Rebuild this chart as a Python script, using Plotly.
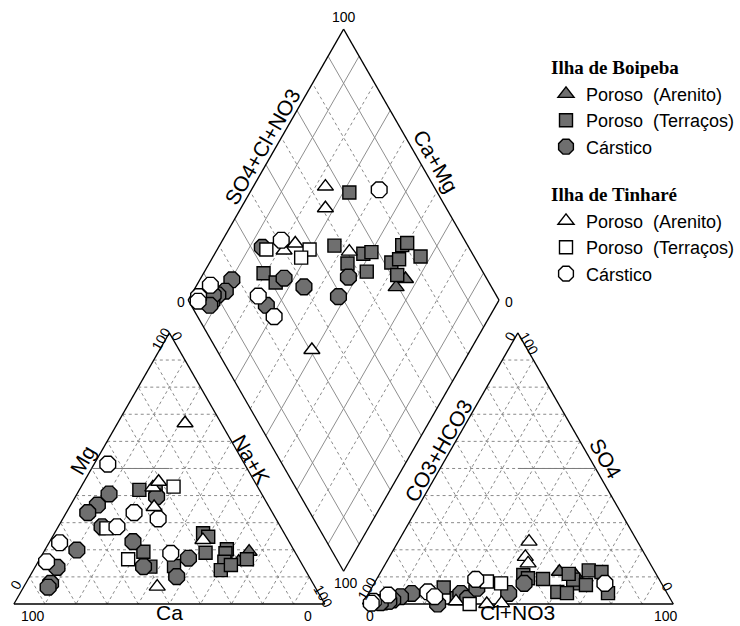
import numpy as np
import plotly.graph_objects as go

# ---------------- DATA (% meq) ----------------
# Ilha de Boipeba - Poroso (Arenito)
boi_are_mg = [19.3, 15.6]
boi_are_nak = [66.0, 64.5]
boi_are_so4 = [10.7, 11.9]
boi_are_cl = [63.1, 57.4]

# Ilha de Boipeba - Poroso (Terraços)
boi_ter_mg = [42.1, 41.4, 19.3, 13.8, 14.0, 26.1, 24.8, 18.9, 20.2, 18.7, 15.6, 12.5, 14.4, 16.5]
boi_ter_nak = [19.3, 24.9, 32.0, 37.0, 44.5, 47.8, 50.1, 52.2, 58.4, 58.7, 59.9, 60.3, 62.6, 66.7]
boi_ter_so4 = [6.1, 2.1, 7.6, 10.7, 9.5, 4.4, 4.0, 9.2, 9.0, 12.4, 4.0, 7.0, 11.1, 11.8]
boi_ter_cl = [23.1, 29.3, 64.1, 46.4, 48.5, 60.5, 63.8, 53.5, 63.3, 66.6, 77.0, 68.4, 60.8, 71.0]

# Ilha de Boipeba - Cárstico
boi_car_mg = [28.5, 23.0, 13.8, 10.1, 16.9, 40.6, 19.9, 36.5, 7.6, 39.6, 33.7, 13.5, 6.2]
boi_car_nak = [14.1, 26.8, 34.8, 47.3, 47.7, 10.3, 10.3, 8.6, 8.0, 26.1, 6.9, 7.1, 7.9]
boi_car_so4 = [3.9, 2.1, 5.8, 7.6, 3.9, 3.9, 2.7, 1.5, 0.8, 0.0, 1.0, 1.0, 0.5]
boi_car_cl = [29.7, 32.8, 33.9, 48.2, 45.1, 13.9, 10.9, 9.0, 6.5, 24.2, 7.8, 8.0, 5.5]

# Ilha de Tinharé - Poroso (Arenito)
tin_are_mg = [43.0, 35.8, 45.1, 66.7, 6.4, 23.6]
tin_are_nak = [23.2, 27.2, 24.0, 21.7, 42.9, 49.0]
tin_are_so4 = [23.0, 17.4, 0.3, 0.0, 15.0, 1.0]
tin_are_cl = [42.1, 43.7, 44.6, 40.0, 45.8, 29.6]

# Ilha de Tinharé - Poroso (Terraços)
tin_ter_mg = [27.9, 43.3, 16.5]
tin_ter_nak = [15.8, 29.7, 28.5]
tin_ter_so4 = [0.0, 7.6, 8.3]
tin_ter_cl = [34.5, 40.8, 35.9]

# Ilha de Tinharé - Cárstico
tin_car_mg = [15.6, 51.6, 33.7, 31.4, 28.5, 18.7, 22.6]
tin_car_nak = [2.7, 4.4, 21.8, 30.7, 18.9, 41.1, 3.4]
tin_car_so4 = [1.0, 3.3, 4.5, 2.7, 9.1, 7.6, 0.3]
tin_car_cl = [3.0, 6.6, 18.8, 21.9, 31.9, 74.2, 2.7]

# ---------------- GEOMETRY ----------------
L = 100.0
G = 12.1
H = np.sqrt(3) / 2
AOFF = L + G


def piper_xy(mg, nak, so4, cl):
    mg, nak, so4, cl = map(np.asarray, (mg, nak, so4, cl))
    cx = nak + mg / 2
    cy = mg * H
    ax = AOFF + cl + so4 / 2
    ay = so4 * H
    a = cl + so4
    dx = (nak + L + G + a) / 2
    dy = H * (L + G + a - nak)
    return np.concatenate([cx, ax, dx]), np.concatenate([cy, ay, dy])


GRAY = "#6f6f6f"
series = [
    ("Boipeba", "<b>Ilha de Boipeba</b>", "Poroso\u00a0\u00a0(Arenito)", "triangle-up", 14, GRAY,
     boi_are_mg, boi_are_nak, boi_are_so4, boi_are_cl),
    ("Boipeba", "<b>Ilha de Boipeba</b>", "Poroso\u00a0\u00a0(Terraços)", "square", 13, GRAY,
     boi_ter_mg, boi_ter_nak, boi_ter_so4, boi_ter_cl),
    ("Boipeba", "<b>Ilha de Boipeba</b>", "Cárstico", "octagon", 17, GRAY,
     boi_car_mg, boi_car_nak, boi_car_so4, boi_car_cl),
    ("Tinhare", "<b>Ilha de Tinharé</b>", "Poroso\u00a0\u00a0(Arenito)", "triangle-up", 14, "white",
     tin_are_mg, tin_are_nak, tin_are_so4, tin_are_cl),
    ("Tinhare", "<b>Ilha de Tinharé</b>", "Poroso\u00a0\u00a0(Terraços)", "square", 13, "white",
     tin_ter_mg, tin_ter_nak, tin_ter_so4, tin_ter_cl),
    ("Tinhare", "<b>Ilha de Tinharé</b>", "Cárstico", "octagon", 17, "white",
     tin_car_mg, tin_car_nak, tin_car_so4, tin_car_cl),
]

fig = go.Figure()

shapes = []
GRID = "#8a8a8a"


def seg(p, q, color=GRID, width=1, dash=None):
    d = dict(type="line", x0=p[0], y0=p[1], x1=q[0], y1=q[1],
             line=dict(color=color, width=width), layer="below")
    if dash:
        d["line"]["dash"] = dash
    shapes.append(d)


def lerp(p, q, t):
    return (p[0] + (q[0] - p[0]) * t, p[1] + (q[1] - p[1]) * t)


def triangle(off):
    V = [(off, 0.0), (off + L, 0.0), (off + L / 2, L * H)]
    for k in range(1, 10):
        f = k / 10
        for i in range(3):
            j, m = (i + 1) % 3, (i + 2) % 3
            p = lerp(V[j], V[i], f)
            q = lerp(V[m], V[i], f)
            seg(p, q, dash="dot")
    for i in range(3):
        seg(V[i], V[(i + 1) % 3], color="black", width=1.3)
    return V


Vc = triangle(0.0)
Va = triangle(AOFF)
# solid half-lines at 50 %
seg(lerp(Vc[0], Vc[2], 0.5), (L / 2, L * H / 2), color="#7a7a7a", width=1)
seg((AOFF + L / 2, L * H / 2), lerp(Va[1], Va[2], 0.5), color="#7a7a7a", width=1)

B = (L + G / 2, G * H)
Lf = ((L + G) / 2, (L + G) * H)
R = ((3 * L + G) / 2, (L + G) * H)
T = (L + G / 2, (2 * L + G) * H)
u = (R[0] - B[0], R[1] - B[1])
v = (Lf[0] - B[0], Lf[1] - B[1])
for k in range(1, 10):
    f = k / 10
    solid = (k % 2 == 1)
    st = dict(color="#8f8f8f", width=1) if solid else dict(color=GRID, width=1, dash="dot")
    p = (B[0] + f * u[0], B[1] + f * u[1])
    seg(p, (p[0] + v[0], p[1] + v[1]), **st)
    p = (B[0] + f * v[0], B[1] + f * v[1])
    seg(p, (p[0] + u[0], p[1] + u[1]), **st)
for p, q in [(B, R), (R, T), (T, Lf), (Lf, B)]:
    seg(p, q, color="black", width=1.3)

for grp, gtitle, name, sym, size, fill, mg, nak, so4, cl in series:
    x, y = piper_xy(mg, nak, so4, cl)
    fig.add_trace(go.Scatter(
        x=x, y=y, mode="markers", name=name,
        legendgroup=grp, legendgrouptitle=dict(text=gtitle, font=dict(
            family="Liberation Serif, Times New Roman, serif", size=19, color="black")),
        marker=dict(symbol=sym, size=size, color=fill, line=dict(color="black", width=1.4)),
        hoverinfo="skip"))

# ---------------- TEXT ----------------
ann = []
FONT = "Liberation Sans, Arial, sans-serif"


def txt(x, y, s, size=21, angle=0):
    ann.append(dict(x=x, y=y, text=s, showarrow=False, textangle=angle,
                    xanchor="center", yanchor="middle",
                    font=dict(family=FONT, size=size, color="black")))


# axis titles
txt(22.0, 46.0, "Mg", angle=-60)
txt(76.4, 46.3, "Na+K", angle=60)
txt(50.0, -2.6, "Ca")
txt(136.7, 48.9, "CO3+HCO3", angle=-60)
txt(190.4, 46.6, "SO4", angle=60)
txt(162.1, -2.6, "Cl+NO3")
txt(79.9, 146.3, "SO4+Cl+NO3", angle=-60)
txt(135.8, 141.5, "Ca+Mg", angle=60)

# tick labels
TS = 14
txt(6.1, -3.8, "100", TS)
txt(94.6, -3.8, "0", TS)
txt(0.6, 6.1, "0", TS, -60)
txt(47.3, 84.7, "100", TS, -60)
txt(52.4, 85.6, "0", TS, 60)
txt(99.4, 2.4, "100", TS, 60)
txt(114.7, -3.8, "0", TS)
txt(209.6, -3.8, "100", TS)
txt(113.7, 5.1, "100", TS, -60)
txt(210.2, 5.4, "0", TS, 60)
txt(159.7, 85.6, "0", TS, -60)
txt(165.8, 83.1, "100", TS, 60)
txt(106.1, 187.5, "100", TS)
txt(53.7, 96.5, "0", TS)
txt(159.1, 96.5, "0", TS)
txt(106.7, 6.7, "100", TS)

S = 3.13
fig.update_layout(
    width=740, height=626,
    margin=dict(l=0, r=0, t=0, b=0),
    paper_bgcolor="white", plot_bgcolor="white",
    xaxis=dict(range=[-14 / S, (740 - 14) / S], visible=False, fixedrange=True),
    yaxis=dict(range=[-(626 - 604) / S, 604 / S], visible=False, fixedrange=True),
    shapes=shapes, annotations=ann,
    legend=dict(x=550 / 740, y=1 - 48 / 626, xanchor="left", yanchor="top",
                font=dict(family=FONT, size=18, color="black"),
                tracegroupgap=20, bgcolor="rgba(0,0,0,0)", itemsizing="trace"),
    showlegend=True,
)

fig.write_html("out.html")
